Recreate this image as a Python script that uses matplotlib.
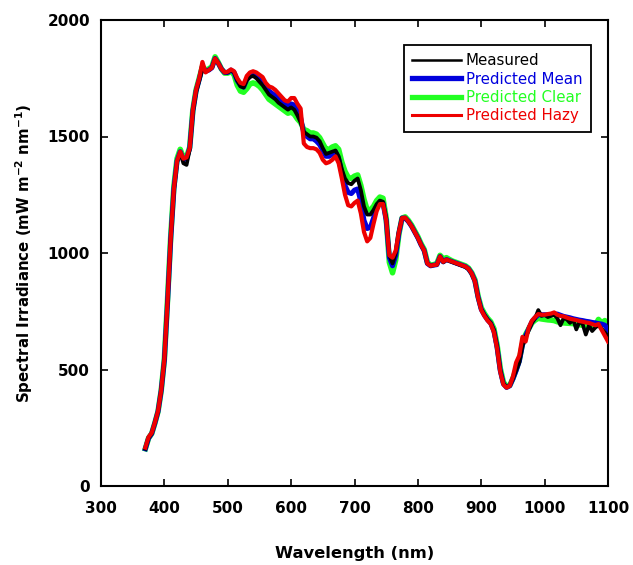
import matplotlib
matplotlib.use("Agg")
import matplotlib.pyplot as plt
from matplotlib.lines import Line2D

plt.rcParams['font.family'] = ['DejaVu Sans']
plt.rcParams['mathtext.fontset'] = 'dejavusans'

# ---- data -------------------------------------------------------------
wl_vis = [370, 375, 380, 385, 390, 395, 400, 405, 410, 415, 420, 425, 430, 435,
          440, 445, 450, 455, 460, 465, 470, 475, 480, 485, 490, 495, 500, 505,
          510, 515, 520, 525, 530, 535, 540, 545, 550, 555, 560, 565, 570, 575,
          580, 585, 590, 595, 600, 605, 610, 615, 620, 625, 630, 635, 640, 645,
          650, 655, 660, 665, 670, 675, 680, 685, 690, 695, 700, 705, 710, 715,
          720, 725, 730, 735, 740, 745, 750, 755, 760, 765, 770, 775, 780, 785,
          790, 795, 800, 805, 810, 815, 820, 825, 830, 835, 840, 845, 850, 855,
          860, 865, 870, 875, 880, 885, 890, 895, 900, 905, 910, 915, 920, 925,
          930, 935, 940, 945, 950, 955, 960, 965, 970, 975, 980, 985, 990, 995,
          1000, 1005, 1010, 1015, 1020, 1025, 1030, 1035, 1040, 1045, 1050, 1055,
          1060, 1065, 1070, 1075, 1080, 1085, 1090, 1095, 1100]

measured = [160, 205, 225, 270, 320, 410, 540, 790, 1060, 1270, 1390, 1430, 1385, 1378,
            1445, 1605, 1690, 1740, 1790, 1780, 1785, 1795, 1835, 1815, 1790, 1775, 1775, 1785,
            1775, 1740, 1715, 1710, 1740, 1755, 1760, 1750, 1735, 1720, 1700, 1680, 1670, 1660,
            1645, 1635, 1625, 1615, 1625, 1615, 1590, 1560, 1520, 1510, 1500, 1500, 1495, 1480,
            1450, 1425, 1430, 1435, 1440, 1415, 1360, 1320, 1300, 1295, 1310, 1320, 1270, 1200,
            1165, 1165, 1185, 1210, 1225, 1220, 1150, 990, 955, 1000, 1090, 1150, 1150, 1135,
            1115, 1090, 1065, 1035, 1010, 955, 945, 948, 950, 985, 960, 970, 965, 960,
            955, 950, 945, 940, 930, 910, 880, 810, 760, 735, 715, 700, 670, 600,
            500, 440, 425, 430, 460, 495, 530, 600, 640, 670, 700, 720, 755, 730,
            735, 725, 730, 735, 720, 690, 720, 715, 700, 715, 672, 705,
            695, 650, 690, 665, 680, 690, 675, 660, 640]

pred_mean = [160, 205, 225, 270, 320, 410, 540, 790, 1060, 1275, 1395, 1435, 1400, 1405,
             1450, 1610, 1695, 1745, 1800, 1780, 1785, 1795, 1835, 1815, 1790, 1775, 1775, 1785,
             1775, 1740, 1720, 1712, 1745, 1760, 1765, 1760, 1750, 1735, 1715, 1695, 1685, 1675,
             1660, 1650, 1640, 1630, 1640, 1635, 1610, 1580, 1515, 1500, 1490, 1490, 1480, 1465,
             1440, 1415, 1415, 1425, 1435, 1405, 1345, 1290, 1260, 1255, 1270, 1275, 1220, 1140,
             1105, 1110, 1150, 1195, 1220, 1215, 1140, 980, 945, 990, 1085, 1150, 1150, 1135,
             1115, 1090, 1065, 1035, 1010, 955, 945, 948, 950, 985, 962, 972, 967, 962,
             957, 952, 947, 942, 932, 912, 880, 810, 758, 733, 713, 698, 665, 595,
             495, 438, 423, 430, 460, 495, 535, 605, 645, 675, 705, 722, 735, 735,
             735, 735, 735, 737, 738, 733, 728, 725, 722, 718, 715, 712,
             710, 707, 705, 702, 700, 697, 695, 690, 670]

pred_clear = [160, 205, 225, 270, 320, 410, 545, 800, 1070, 1285, 1405, 1445, 1410, 1410,
              1455, 1615, 1700, 1750, 1800, 1785, 1790, 1800, 1842, 1818, 1790, 1772, 1772, 1780,
              1765, 1720, 1695, 1690, 1705, 1725, 1730, 1725, 1715, 1700, 1680, 1660, 1650, 1640,
              1630, 1620, 1610, 1600, 1605, 1595, 1575, 1560, 1530, 1525, 1515, 1515, 1510, 1495,
              1470, 1445, 1445, 1455, 1460, 1445, 1390, 1350, 1325, 1320, 1330, 1335, 1290, 1230,
              1185, 1185, 1200, 1225, 1240, 1235, 1150, 960, 915, 970, 1080, 1150, 1155, 1140,
              1120, 1095, 1070, 1040, 1015, 960, 948, 950, 955, 990, 975, 980, 972, 965,
              960, 955, 950, 945, 935, 915, 885, 815, 765, 740, 720, 705, 675, 605,
              505, 445, 428, 432, 462, 500, 540, 610, 650, 675, 700, 712, 720, 717,
              715, 713, 712, 710, 705, 702, 700, 699, 698, 697, 695, 692,
              690, 689, 688, 689, 690, 715, 700, 710, 695]

pred_hazy = [165, 210, 228, 272, 322, 412, 545, 795, 1065, 1275, 1395, 1435, 1405, 1410,
             1450, 1615, 1700, 1750, 1820, 1775, 1785, 1795, 1835, 1815, 1790, 1775, 1778, 1788,
             1780, 1750, 1730, 1725, 1760, 1775, 1780, 1775, 1765, 1755, 1730, 1715, 1710, 1700,
             1685, 1670, 1655, 1650, 1665, 1665, 1640, 1620, 1470, 1455, 1450, 1450, 1445, 1430,
             1400, 1385, 1390, 1400, 1415, 1385, 1320, 1250, 1205, 1200, 1215, 1225, 1170, 1090,
             1050, 1065, 1125, 1180, 1210, 1210, 1140, 990, 980, 1010, 1090, 1150, 1152, 1135,
             1115, 1090, 1065, 1035, 1010, 955, 945, 948, 950, 985, 962, 972, 967, 962,
             957, 952, 947, 942, 932, 912, 878, 808, 755, 730, 710, 695, 660, 590,
             490, 435, 422, 430, 470, 530, 560, 640, 620, 680, 710, 725, 738, 735,
             735, 738, 740, 745, 735, 730, 728, 723, 718, 715, 712, 708,
             705, 702, 700, 695, 690, 695, 670, 645, 620]

xticks = [300, 400, 500, 600, 700, 800, 900, 1000, 1100]
yticks = [0, 500, 1000, 1500, 2000]

# ---- figure -----------------------------------------------------------
fig = plt.figure(figsize=(6.33, 5.65), dpi=100)
ax = fig.add_axes([101/633, 1-486/565, (608-101)/633, (486-20)/565])

ax.plot(wl_vis, pred_clear, color='#22ff22', lw=4.0, solid_joinstyle='round', zorder=2)
ax.plot(wl_vis, pred_mean, color='#0000dd', lw=3.6, solid_joinstyle='round', zorder=3)
ax.plot(wl_vis, measured, color='black', lw=2.7, solid_joinstyle='round', zorder=4)
ax.plot(wl_vis, pred_hazy, color='#ee0000', lw=3.0, solid_joinstyle='round', zorder=5)

ax.set_xlim(300, 1100)
ax.set_ylim(0, 2000)
ax.set_xticks(xticks)
ax.set_yticks(yticks)
ax.tick_params(direction='in', top=True, right=True, length=5, width=1.2,
               labelsize=11)
ax.tick_params(axis='x', pad=11)
ax.tick_params(axis='y', pad=8)
for lab in ax.get_xticklabels() + ax.get_yticklabels():
    lab.set_fontweight('bold')
for sp in ax.spines.values():
    sp.set_linewidth(1.5)

ax.set_xlabel('Wavelength (nm)', fontsize=11.8, fontweight='bold')
ax.xaxis.set_label_coords(0.5, -(546 - 486) / 466)
ax.set_ylabel(r'Spectral Irradiance (mW m$^{\mathbf{-2}}$ nm$^{\mathbf{-1}}$)',
              fontsize=10.8, fontweight='bold', labelpad=9)

handles = [Line2D([], [], color='black', lw=1.8),
           Line2D([], [], color='#0000dd', lw=3.8),
           Line2D([], [], color='#22ff22', lw=3.8),
           Line2D([], [], color='#ee0000', lw=2.2)]
labels = ['Measured', 'Predicted Mean', 'Predicted Clear', 'Predicted Hazy']
leg = ax.legend(handles, labels, loc='upper right', bbox_to_anchor=(0.966, 0.946),
                borderaxespad=0, fontsize=10.8, frameon=True, fancybox=False,
                framealpha=1, edgecolor='black', handlelength=3.3,
                handletextpad=0.3, labelspacing=0.22, borderpad=0.55)
leg.get_frame().set_linewidth(1.3)
for txt, c in zip(leg.get_texts(), ['black', '#0000dd', '#22ff22', '#ee0000']):
    txt.set_color(c)

fig.savefig('out.png', dpi=100)
